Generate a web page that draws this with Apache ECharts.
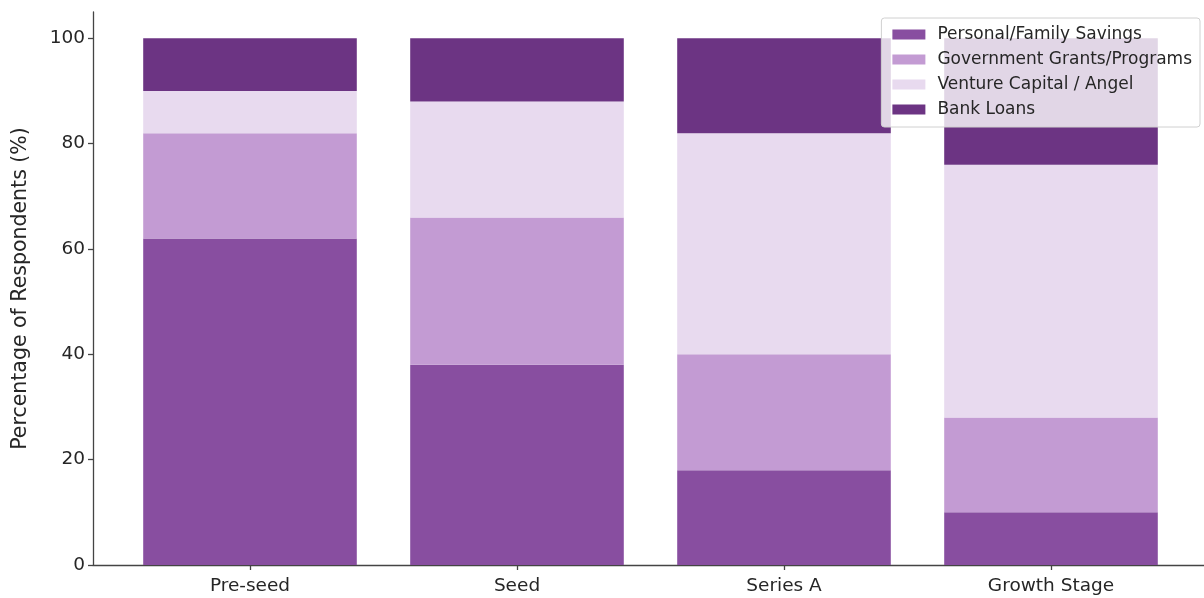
<!DOCTYPE html>
<html>
<head>
<meta charset="utf-8">
<script src="https://cdn.jsdelivr.net/npm/echarts@6/dist/echarts.min.js"></script>
<style>html,body{margin:0;padding:0;background:#fff}#c{width:1204px;height:598px}</style>
</head>
<body>
<div id="c"></div>
<script>
const categories = ['Pre-seed', 'Seed', 'Series A', 'Growth Stage'];
const seriesNames = ['Personal/Family Savings', 'Government Grants/Programs', 'Venture Capital / Angel', 'Bank Loans'];
const personal = [62, 38, 18, 10];
const government = [20, 28, 22, 18];
const venture = [8, 22, 42, 48];
const bank = [10, 12, 18, 24];
const yTicks = [0, 20, 40, 60, 80, 100];
const colors = ['#884ea0', '#c39bd3', '#e8daef', '#6c3483'];

const allValues = [personal, government, venture, bank];
const chart = echarts.init(document.getElementById('c'));
const font = 'DejaVu Sans';
const txt = '#262626';
const axisCol = '#444';
chart.setOption({
  animation: false,
  grid: [
    { left: 93, right: 0, top: 12, bottom: 33 },
    { left: 116.5, width: 1068, top: 12, bottom: 33 }
  ],
  legend: {
    orient: 'vertical', right: 4, top: 18,
    icon: 'rect',
    itemWidth: 33, itemHeight: 10, itemGap: 8,
    padding: [8, 8, 9, 11],
    backgroundColor: 'rgba(255,255,255,0.8)', borderColor: '#d0d0d0', borderWidth: 1, borderRadius: 3,
    textStyle: { fontFamily: font, fontSize: 17, color: txt, padding: [0, 0, 0, 7] },
    data: seriesNames
  },
  xAxis: [
    {
      gridIndex: 0, type: 'value', min: 0, max: 1,
      splitLine: { show: false }, axisTick: { show: false }, axisLabel: { show: false },
      axisLine: { show: true, lineStyle: { color: axisCol, width: 1.3 } }
    },
    {
      gridIndex: 1, type: 'category', data: categories,
      axisLine: { show: false },
      axisTick: { show: true, alignWithLabel: true, length: 5, lineStyle: { color: axisCol, width: 1.3 } },
      axisLabel: { fontFamily: font, fontSize: 18.5, color: txt, margin: 12 }
    }
  ],
  yAxis: [
    {
      gridIndex: 0, type: 'value', min: 0, max: 105,
      name: 'Percentage of Respondents (%)', nameLocation: 'middle', nameGap: 62, nameRotate: 90,
      nameTextStyle: { fontFamily: font, fontSize: 20.5, color: txt },
      splitLine: { show: false },
      axisLine: { show: true, lineStyle: { color: axisCol, width: 1.3 } },
      axisTick: { show: true, customValues: yTicks, length: 5, lineStyle: { color: axisCol, width: 1.3 } },
      axisLabel: { customValues: yTicks, fontFamily: font, fontSize: 18.5, color: txt, margin: 8 }
    },
    {
      gridIndex: 1, type: 'value', min: 0, max: 105, show: false, splitLine: { show: false }
    }
  ],
  series: seriesNames.map((name, i) => ({
    name, type: 'bar', stack: 'total', barCategoryGap: '20%',
    xAxisIndex: 1, yAxisIndex: 1,
    itemStyle: { color: colors[i] },
    data: allValues[i]
  }))
});
</script>
</body>
</html>
